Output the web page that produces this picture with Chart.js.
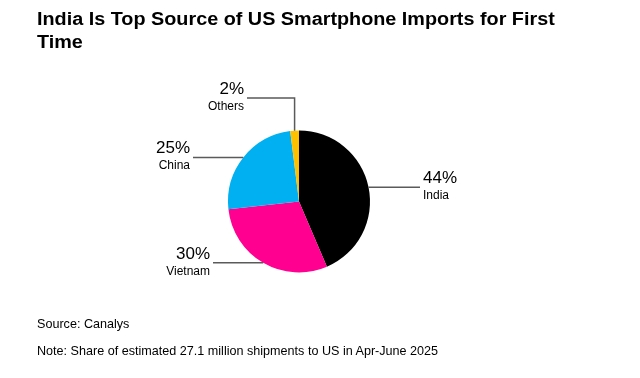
<!DOCTYPE html>
<html>
<head>
<meta charset="utf-8">
<script src="https://cdn.jsdelivr.net/npm/chart.js@4"></script>
<style>
  html, body { margin: 0; padding: 0; background: #fff; }
  #wrap { position: relative; width: 640px; height: 378px; overflow: hidden; font-family: "Liberation Sans", Arial, sans-serif; color: #000; }
  #c { position: absolute; left: 0; top: 0; }
  .title { position: absolute; left: 37px; top: 8px; width: 500px; font-weight: bold; font-size: 18px; line-height: 22.6px; transform: scaleX(1.1); transform-origin: left top; }
  .src { position: absolute; left: 37px; font-size: 12.6px; line-height: 15px; }
</style>
</head>
<body>
<div id="wrap">
  <canvas id="c" width="640" height="378"></canvas>
  <div class="title">India Is Top Source of US Smartphone Imports for First Time</div>
  <div class="src" style="top:317px">Source: Canalys</div>
  <div class="src" style="top:344.4px">Note: Share of estimated 27.1 million shipments to US in Apr-June 2025</div>
</div>
<script>
const categories = ["India", "Vietnam", "China", "Others"];
const shares = [44, 30, 25, 2];
const sliceColors = ["#000000", "#FF0090", "#00B0F0", "#FFC000"];

// leader-line layout per slice (positions only)
const leaderLayout = [
  { side: "right", endX: 420 },
  { side: "left", endX: 213 },
  { side: "left", endX: 193 },
  { side: "left", endX: 247, elbowY: 98 }
];

const leaderPlugin = {
  id: "leaders",
  afterDatasetsDraw(chart) {
    const ctx = chart.ctx;
    const meta = chart.getDatasetMeta(0);
    meta.data.forEach((arc, i) => {
      const p = arc.getProps(["x", "y", "startAngle", "endAngle", "outerRadius"], true);
      const mid = (p.startAngle + p.endAngle) / 2;
      const px = p.x + p.outerRadius * Math.cos(mid);
      const py = p.y + p.outerRadius * Math.sin(mid);
      const L = leaderLayout[i];
      ctx.save();
      ctx.strokeStyle = "#5a5a5a";
      ctx.lineWidth = 1.5;
      ctx.beginPath();
      ctx.moveTo(px, py);
      let ly = py;
      if (L.elbowY !== undefined) {
        ctx.lineTo(px, L.elbowY);
        ly = L.elbowY;
      }
      ctx.lineTo(L.endX, ly);
      ctx.stroke();
      ctx.fillStyle = "#000";
      ctx.textBaseline = "alphabetic";
      let tx;
      if (L.side === "right") { ctx.textAlign = "left"; tx = L.endX + 3; }
      else { ctx.textAlign = "right"; tx = L.endX - 3; }
      ctx.font = '17px "Liberation Sans", Arial, sans-serif';
      ctx.fillText(shares[i] + "%", tx, ly - 4);
      ctx.font = '12px "Liberation Sans", Arial, sans-serif';
      ctx.fillText(categories[i], tx, ly + 12);
      ctx.restore();
    });
  }
};

new Chart(document.getElementById("c"), {
  type: "pie",
  data: {
    labels: categories,
    datasets: [{
      data: shares,
      backgroundColor: sliceColors,
      borderWidth: 0,
      hoverOffset: 0
    }]
  },
  options: {
    responsive: false,
    animation: false,
    layout: { padding: { left: 228, right: 270, top: 130, bottom: 105 } },
    plugins: { legend: { display: false }, tooltip: { enabled: false }, title: { display: false } }
  },
  plugins: [leaderPlugin]
});
</script>
</body>
</html>
